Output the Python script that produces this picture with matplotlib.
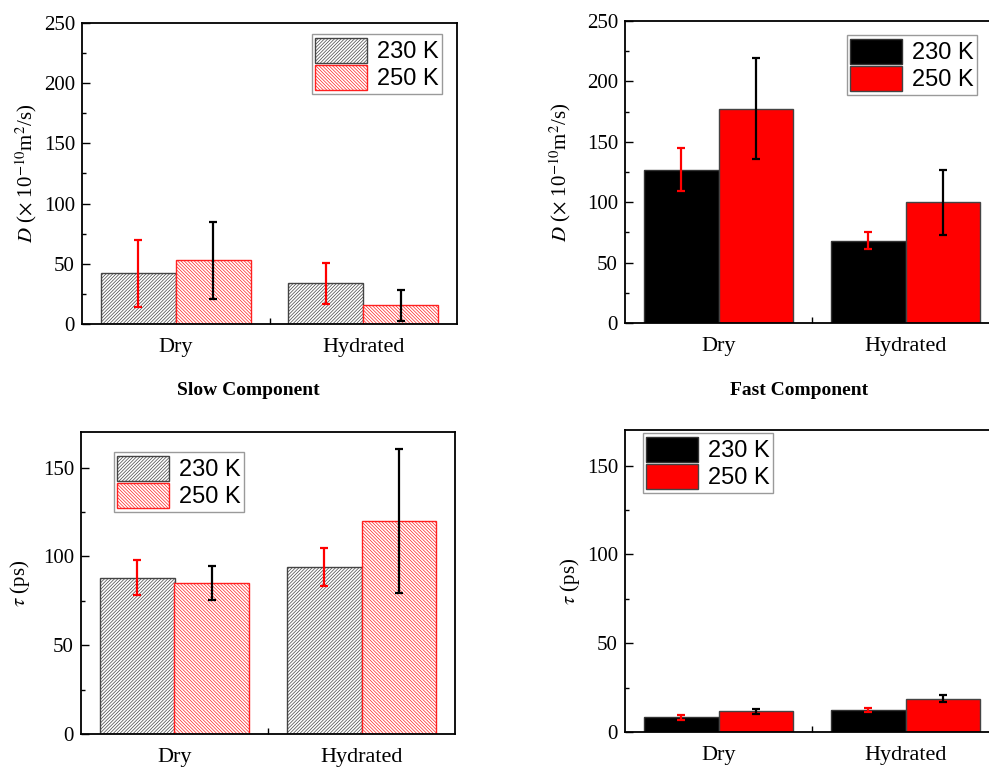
import matplotlib
matplotlib.use("Agg")
import matplotlib.pyplot as plt
from matplotlib.ticker import MultipleLocator, FixedLocator
import numpy as np

categories = ["Dry", "Hydrated"]
temps = ["230 K", "250 K"]

slow_D_230 = [42, 34]
slow_D_230_err = [28, 17]
slow_D_250 = [53, 15.5]
slow_D_250_err = [32, 13]

fast_D_230 = [127, 68]
fast_D_230_err = [18, 7]
fast_D_250 = [177.5, 100]
fast_D_250_err = [42, 27]

slow_tau_230 = [88, 94]
slow_tau_230_err = [10, 10.5]
slow_tau_250 = [85, 120]
slow_tau_250_err = [9.3, 40.7]

fast_tau_230 = [8.2, 12.3]
fast_tau_230_err = [1.3, 1.1]
fast_tau_250 = [11.8, 18.8]
fast_tau_250_err = [1.4, 2.0]

plt.rcParams['font.family'] = ['Liberation Serif', 'DejaVu Serif']
plt.rcParams['mathtext.fontset'] = 'stix'
plt.rcParams['hatch.linewidth'] = 0.5

W, H = 989, 769
fig = plt.figure(figsize=(W / 100, H / 100), dpi=100)

def px_axes(l, r, t, b):
    return fig.add_axes([l / W, 1 - b / H, (r - l) / W, (b - t) / H])

def draw(ax, v230, e230, v250, e250, hatched, ylim, ylabel, labx, leg_rt):
    x = np.arange(1, len(categories) + 1)
    w = 0.4
    if hatched:
        ax.bar(x - w / 2, v230, w, facecolor='white', edgecolor='#444444',
               hatch='//////////', linewidth=1.0, label=temps[0])
        ax.bar(x + w / 2, v250, w, facecolor='white', edgecolor='#ff2020',
               hatch='\\' * 10, linewidth=1.0, label=temps[1])
    else:
        ax.bar(x - w / 2, v230, w, facecolor='black', edgecolor='#333333',
               linewidth=1.0, label=temps[0])
        ax.bar(x + w / 2, v250, w, facecolor='#ff0000', edgecolor='#444444',
               linewidth=1.0, label=temps[1])
    ax.errorbar(x - w / 2, v230, yerr=e230, fmt='none', ecolor='#ff0000',
                elinewidth=1.6, capsize=3, capthick=1.6, zorder=3)
    ax.errorbar(x + w / 2, v250, yerr=e250, fmt='none', ecolor='black',
                elinewidth=1.6, capsize=3, capthick=1.6, zorder=3)
    ax.set_xlim(0.5, 2.5)
    ax.set_ylim(*ylim)
    ax.set_xticks(x)
    ax.set_xticklabels(categories, fontsize=16)
    ax.xaxis.set_minor_locator(FixedLocator([1.5]))
    ax.tick_params(axis='x', which='major', length=0, pad=10)
    ax.tick_params(axis='x', which='minor', length=4, direction='in', width=1)
    ax.yaxis.set_major_locator(MultipleLocator(50))
    ax.yaxis.set_minor_locator(MultipleLocator(25))
    ax.tick_params(axis='y', which='major', direction='in', length=6, width=1,
                   labelsize=15, pad=5)
    ax.tick_params(axis='y', which='minor', direction='in', length=3, width=1)
    for s in ax.spines.values():
        s.set_linewidth(1.3)
    ax.set_ylabel(ylabel, fontsize=15)
    ax.yaxis.set_label_coords(labx, 0.5)
    leg = ax.legend(loc='upper right', bbox_to_anchor=(leg_rt[0] / W, 1 - leg_rt[1] / H),
                    bbox_transform=fig.transFigure, borderaxespad=0,
                    prop={'family': 'Liberation Sans', 'size': 17},
                    fancybox=False, framealpha=1, edgecolor='#9a9a9a',
                    handlelength=2.2, handleheight=1.3, handletextpad=0.4,
                    labelspacing=0.05, borderpad=0.15)
    leg.get_frame().set_linewidth(1.0)

Dlabel = r'$D$ ($\times$ 10$^{-10}$m$^{2}$/s)'
taulabel = r'$\tau$ (ps)'

ax1 = px_axes(82, 457, 23, 324)
draw(ax1, slow_D_230, slow_D_230_err, slow_D_250, slow_D_250_err, True,
     (0, 250), Dlabel, -0.115, (442, 34))
ax2 = px_axes(625, 999, 21, 323)
draw(ax2, fast_D_230, fast_D_230_err, fast_D_250, fast_D_250_err, False,
     (0, 250), Dlabel, -0.139, (977, 35))
ax3 = px_axes(81, 455, 432, 734)
draw(ax3, slow_tau_230, slow_tau_230_err, slow_tau_250, slow_tau_250_err, True,
     (0, 170), taulabel, -0.131, (244, 452))
ax4 = px_axes(625, 999, 430, 732)
draw(ax4, fast_tau_230, fast_tau_230_err, fast_tau_250, fast_tau_250_err, False,
     (0, 170), taulabel, -0.115, (773, 433))

fig.text(248 / W, 1 - 390 / H, "Slow Component", ha='center', va='center',
         fontsize=14, fontweight='bold')
fig.text(799 / W, 1 - 390 / H, "Fast Component", ha='center', va='center',
         fontsize=14, fontweight='bold')

fig.savefig("out.png", dpi=100)
